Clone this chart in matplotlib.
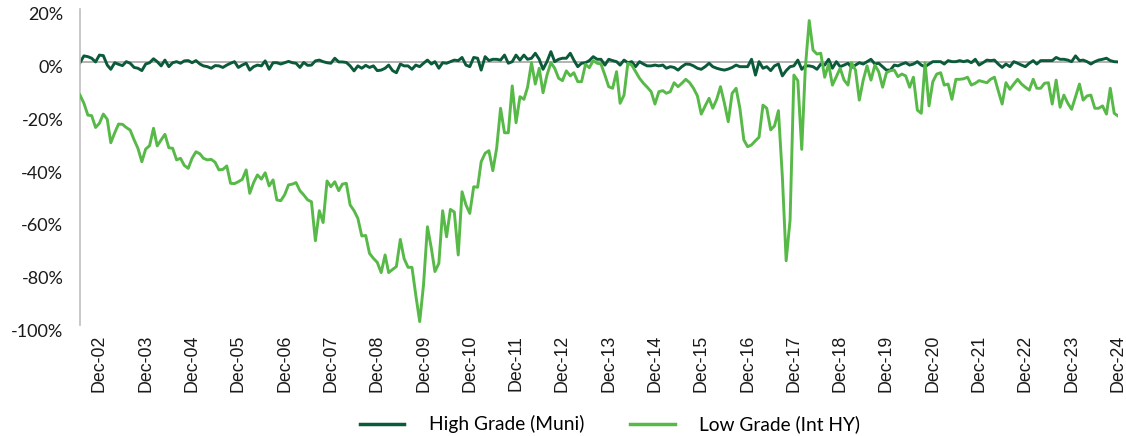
import matplotlib
matplotlib.use("Agg")
import matplotlib.pyplot as plt
import matplotlib.dates as mdates
import matplotlib.transforms as mtransforms
from matplotlib.ticker import FuncFormatter
import pandas as pd

# monthly series, Jul-02 .. Dec-24
start_month = "2002-07-01"

high_grade = [
    -0.4, 2.2, 1.9, 1.3, -0.1, 2.5, 2.3, -1.3, -2.9, -0.4, -1, -1.5, 0, -0.6, -2.2, -2.5,
    -3.4, -0.9, -0.4, 1.1, 0, -1.6, 0.6, -1.9, -0.4, 0, -0.6, 0.3, 0.4, -0.4, 0.4, -0.9,
    -1.6, -1.9, -2.5, -1.5, -1.6, -2.2, -1.3, -0.6, 0, -2.2, -1.3, -0.6, -3.2, -1.9, -1.3,
    -1.6, 0.3, -2.9, -0.4, -0.4, -0.9, -0.4, 0.1, -0.4, -0.6, -2.2, -0.3, -1.4, -1.3, 0.3,
    0.6, 0, -0.4, -0.6, 1.3, -0.1, -0.1, -0.3, -1.6, -3.5, -1.6, -2.5, -1.4, -2.2, -1.6,
    -3.4, -3.2, -2.5, -1.3, -3.4, -4.2, -0.9, -1.6, -1.6, -2.9, -1.3, -1.9, -0.6, 0.6, -0.9,
    0, -2.5, -0.4, -0.6, 0, 0.6, 0.4, 1.6, -1.3,
    -1.9, 1.6, 1.3, -3.2, 1.9, 0.4, 0.9, 0.9, 0.6, 2.5, -0.6, 0, 2.5, 0.6, 2.5, 0.9, 1.3,
    3.2, 0.9, -2.9, 0, 3.8, 0, 0.9, 1.3, 1.3, 3.2, 0.6, -1.9, -0.6, -0.4, 0.4, 1.9, 0.9,
    0.9, -1.3, 0.9, 0.4, 0, -1.3, 0.6, -0.4, 0, -1.9, 0, -0.9, -1.6, -1.6, -1.3, -1.6,
    -1.3, -2.5, -1.9, -2.2, -3.2,
    -1.9, -0.9, -1, -1.6, -2.5, -2.9, -1.9, -0.6, -1.9, -2.5, -2.9, -3.2, -2.8, -2.2, -1.3,
    -1.9, -1.9, -1.9, 0.9, -5.1, 0, -2.5, -1.9, -3.4, -1.6, -0.9, -5.4, -3.4, -1.9, -1.6,
    0.6, -2.9, -1.6, -1.6, -1.9, -2.9, -0.9, -1.3, 0.9, -2.5, 0, -1.9, -1.3, -0.6, -2.2,
    -1.3, -0.4, -0.9, 0, 0.9, -0.9, -0.6, -1.9, -3.2,
    -3.2, -1.3, -1.6, -0.9, -0.4, -1.3, -0.9, 0, -1.3, -1.9, -0.9, 0, 0, 0, -0.9, 0.4, 0,
    0, 0.4, 0, 0.4, -0.4, 0.9, -1.3, -0.4, 0.6, 0.4, 0.6, -0.9, -2.2, -0.9, -1.9, 0, -0.6,
    -1.3, -1.9, -0.6, 0.4, -0.9, 0.4, 0.4, 0.4, 0.4, 1.6, 0.9, 0.9, 0.6, 0, 2.2, 0.4, 0.6,
    0, -0.9, 0, 0.6, 0.9, 1.3, 0.4, 0, -0.1,
]

low_grade = [
    -12.7, -15.8, -20.3, -20.5, -25, -23.4, -19.9, -21.9, -30.8, -27, -23.7, -23.8, -25,
    -26, -29.7, -32.9, -38, -33.2, -31.9, -25.3, -32, -29.7, -27.6, -32.7, -32.9, -37.3,
    -36.7, -39.4, -40.5, -36.7, -34.2, -35, -36.7, -37.3, -37.1, -38.2, -41.1, -40.9,
    -39.6, -46.2, -46.3, -45.6, -44.7, -41.1, -50, -45.9, -43,
    -44.6, -42.2, -47.2, -44.9, -52.5, -52.8, -50.6, -46.8, -46.5, -45.9, -49, -50.6,
    -52.5, -53.2, -68, -56.6, -61.1, -45.3, -47.5, -45.6, -49, -46.5, -46.2, -54.4, -56.6,
    -59.5, -66.2, -66, -72.8, -74.7, -76.2, -80.1, -73.4, -80.1, -78.9, -77.8, -67.5,
    -74.8, -78.1, -78.1, -88.6, -98.7, -84.8, -62.7, -70.9, -79.7, -76.6, -56.6, -66.5,
    -56.1, -57.1, -73.4, -49.4, -54.4,
    -57.6, -47.5, -47.7, -38, -34.8, -33.8, -41.4, -32.9, -17.7, -27, -27, -9.2, -23.2,
    -13.3, -14.3, -9.7, -0.4, -8.5, -2.5, -11.8, -5.1, -0.4, -2.5, -6.3, -7.2, -3.5, -5.4,
    -4.2, -7.6, -7.6, -1, -2.3, 0.4, -0.6, -0.9, -5.1, -9.5, -10.1, -3.8, -15.8, -12.7,
    -0.6, -1.3, -3.8, -6.3, -8.2, -9.7, -11.4, -16.1, -11.4, -11, -12, -11.4, -8, -9.5,
    -8.2, -6.7, -8, -10.1, -13, -19.9, -16.8, -13.9, -17.7, -14.3, -9.5, -15.8, -22.8,
    -12, -10.1, -17.7, -29.7, -32.3, -31.6, -30, -28.7, -16.5, -17.7, -25.9, -24.4, -18.6,
    -43.7, -75.6, -60.1, -5.1, -7.2, -33.3, -2.5, 15.6, 4.4, 2.9, 3.2, -5.9, -0.9, -8.9,
    -5.7, -2.5, -7, -8.9, -0.4, -3.2, -14.6, -7, -1.6, -7, -1.3, -3.8, -9.7, -4.2,
    -3.4, -3.2, -5.7, -4.7, -5.4, -9.7, -5.9, -18.4, -19.6, -0.4, -16.8, -7.6, -4.7, -4.2,
    -8.9, -8.5, -14.3, -6.7, -6.7, -6.5, -5.9, -8.9, -8.2, -7.2, -7.6, -8, -6.7, -5.9, -11,
    -16.1, -8, -10.5, -8.5, -6.7, -8.5, -9.7, -10.8, -6.7, -10.1, -10.1, -8.2, -8, -16.1,
    -7, -17.3, -12.7, -15.8, -18.1, -13.3, -8.5, -14.6, -13, -12.7, -17.7, -17.7, -16.8,
    -19.9, -10.1, -19.6, -20.6,
]

series_names = ["High Grade (Muni)", "Low Grade (Int HY)"]
y_ticks = [20, 0, -20, -40, -60, -80, -100]

dates = pd.date_range(start_month, periods=len(low_grade), freq="MS")

fig = plt.figure(figsize=(11.26, 4.36), dpi=100)
ax = fig.add_axes([80 / 1126, 1 - 325 / 436, (1118 - 80) / 1126, (325 - 9) / 436])

ax.axhline(0, color="#a6a6a6", lw=1.2, zorder=1)
ax.plot(dates, high_grade, color="#0b5a3a", lw=2.1, label=series_names[0], zorder=2)
ax.plot(dates, low_grade, color="#57b947", lw=2.1, label=series_names[1], zorder=3)

ax.set_xlim(dates[0], dates[-1])
ax.set_ylim(-100, 20)
ax.set_yticks(y_ticks)
ax.yaxis.set_major_formatter(FuncFormatter(lambda v, p: f"{v:.0f}%"))
ax.xaxis.set_major_locator(mdates.MonthLocator(bymonth=12))
ax.xaxis.set_major_formatter(mdates.DateFormatter("%b-%y"))

for s in ["top", "right", "bottom"]:
    ax.spines[s].set_visible(False)
ax.spines["left"].set_color("#bfbfbf")
ax.spines["left"].set_linewidth(1.2)

ax.tick_params(axis="both", length=0)
ax.tick_params(axis="y", pad=12)
ax.tick_params(axis="x", pad=7)

# y labels sit a little below their gridline in the reference
offset = mtransforms.ScaledTranslation(0, -5 / 100, fig.dpi_scale_trans)
for lbl in ax.get_yticklabels():
    lbl.set_fontfamily("Lato")
    lbl.set_fontsize(13)
    lbl.set_color("#1a1a1a")
    lbl.set_transform(lbl.get_transform() + offset)

for lbl in ax.get_xticklabels():
    lbl.set_fontfamily("Liberation Sans")
    lbl.set_fontsize(12.8)
    lbl.set_rotation(90)
    lbl.set_color("#1a1a1a")

handles, labels = ax.get_legend_handles_labels()
leg = fig.legend(handles, labels, loc="center", bbox_to_anchor=(0.542, 0.027), ncol=2,
                 frameon=False, prop={"family": "Lato", "size": 13.8},
                 handlelength=2.3, handletextpad=1.3, columnspacing=2.4)
for line in leg.get_lines():
    line.set_linewidth(2.5)

fig.savefig("out.png", dpi=100)
